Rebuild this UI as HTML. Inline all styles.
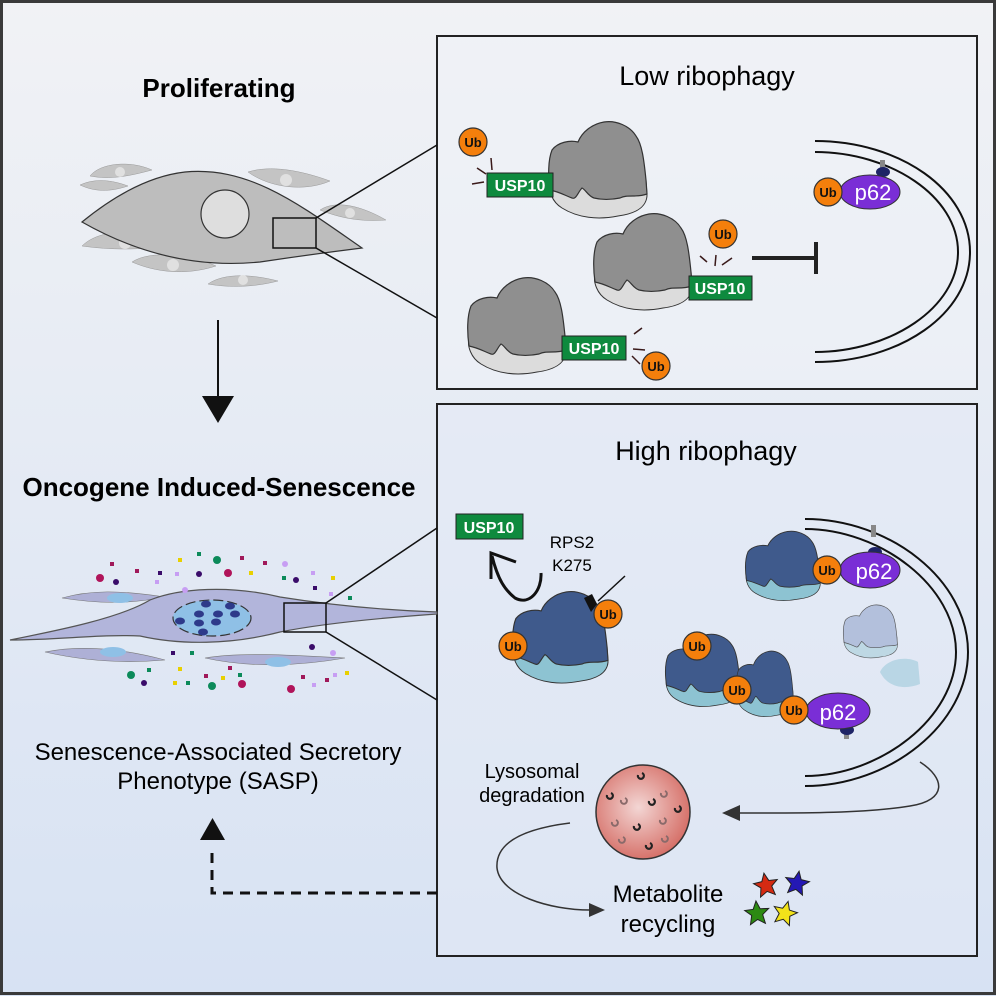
<!DOCTYPE html>
<html><head><meta charset="utf-8"><style>
html,body{margin:0;padding:0;width:996px;height:996px;overflow:hidden}
svg text{font-family:"Liberation Sans",sans-serif}
</style></head><body>
<svg width="996" height="996" viewBox="0 0 996 996" xmlns="http://www.w3.org/2000/svg">
<defs>
<linearGradient id="bg" x1="0" y1="0" x2="0" y2="1"><stop offset="0" stop-color="#f1f2f5"/><stop offset="1" stop-color="#d7e2f3"/></linearGradient>
<radialGradient id="lys" cx="0.45" cy="0.45" r="0.6"><stop offset="0" stop-color="#f3d6d4"/><stop offset="1" stop-color="#d46a62"/></radialGradient>
<g id="ribo">
<path d="M2,62 C0,70 4,82 14,88 C30,98 50,100 70,96 C86,94 98,88 99,76 L98,60 Z" fill="var(--s)" stroke="#333" stroke-width="1"/>
<path d="M4,30 C10,22 22,20 30,22 C34,12 44,4 56,2 C68,0 82,6 88,16 C94,24 96,40 98,60 L99,74 C88,78 80,74 72,78 C62,80 54,80 46,78 C40,76 38,70 34,68 C30,72 28,80 24,78 C18,76 12,72 2,70 C0,56 0,40 4,30 Z" fill="var(--l)" stroke="#333" stroke-width="1.2"/>
</g>
<g id="ub"><circle r="14" fill="#f47f0c" stroke="#333" stroke-width="1.2"/><text y="5" text-anchor="middle" font-size="13" font-weight="bold" fill="#111">Ub</text></g>
</defs>
<rect x="0" y="0" width="996" height="996" fill="url(#bg)"/>
<rect x="1.5" y="1.5" width="993" height="992" fill="none" stroke="#3a3a3a" stroke-width="3"/>
<rect x="437" y="36" width="540" height="353" fill="#eff1f6" fill-opacity="0.6" stroke="#222" stroke-width="2"/>
<rect x="437" y="404" width="540" height="552" fill="#e3eaf6" fill-opacity="0.5" stroke="#222" stroke-width="2"/>

<!-- left top -->
<text x="219" y="97" text-anchor="middle" font-size="26" font-weight="bold">Proliferating</text>
<g fill="#c4c4c4" stroke="#999" stroke-width="0.5">
<path d="M90,176 C100,163 130,160 152,170 C130,176 110,180 90,176Z"/><path d="M80,185 C95,178 112,180 128,186 C110,192 95,192 80,185Z"/>
<path d="M248,172 C270,165 300,170 330,181 C305,192 270,188 248,172Z"/>
<path d="M320,210 C335,200 360,205 386,220 C360,222 340,218 320,210Z"/>
<path d="M82,246 C100,228 140,228 168,246 C140,250 110,250 82,246Z"/>
<path d="M132,262 C150,250 190,254 216,266 C185,276 155,272 132,262Z"/>
<path d="M208,284 C225,272 255,275 278,281 C255,287 230,288 208,284Z"/>
</g>
<g fill="#e0e0e0"><circle cx="120" cy="172" r="5"/><circle cx="286" cy="180" r="6"/><circle cx="350" cy="213" r="5"/><circle cx="125" cy="243" r="6"/><circle cx="173" cy="265" r="6"/><circle cx="243" cy="280" r="5"/></g>
<path d="M82,222 C115,195 150,176 185,172 C250,166 300,205 362,248 C330,252 300,256 260,262 C200,268 140,255 82,222 Z" fill="#bdbdbd" stroke="#333" stroke-width="1.2"/>
<ellipse cx="225" cy="214" rx="24" ry="24" fill="#dedede" stroke="#333" stroke-width="1.2"/>
<rect x="273" y="218" width="43" height="30" fill="none" stroke="#111" stroke-width="1.5"/>
<line x1="316" y1="218" x2="437" y2="145" stroke="#111" stroke-width="1.5"/>
<line x1="316" y1="248" x2="437" y2="318" stroke="#111" stroke-width="1.5"/>
<line x1="218" y1="320" x2="218" y2="397" stroke="#111" stroke-width="2"/>
<polygon points="202,396 234,396 218,423" fill="#111"/>

<text x="219" y="496" text-anchor="middle" font-size="26" font-weight="bold">Oncogene Induced-Senescence</text>
<!-- senescent -->
<g fill="#aeb0d6" stroke="#777" stroke-width="0.6">
<path d="M62,598 C90,590 120,590 165,597 C130,604 100,604 62,598Z"/>
<path d="M45,652 C80,645 120,648 165,660 C120,664 80,660 45,652Z"/>
<path d="M205,658 C240,652 290,655 345,658 C300,666 250,668 205,658Z"/>
</g>
<g fill="#8fc0e6"><ellipse cx="120" cy="598" rx="13" ry="5"/><ellipse cx="113" cy="652" rx="13" ry="5"/><ellipse cx="278" cy="662" rx="13" ry="5"/></g>
<path d="M10,640 C60,630 120,618 150,600 C180,588 230,585 280,597 C330,605 380,610 437,612 L437,614 C380,618 320,624 280,632 C230,645 180,645 140,636 C100,634 60,640 10,640Z" fill="#b2b5db" stroke="#555" stroke-width="1.2"/>
<ellipse cx="212" cy="618" rx="39" ry="18" fill="#8fc0e6" stroke="#333" stroke-width="1.2" stroke-dasharray="10 4"/>
<g fill="#2e3a8a"><ellipse cx="206" cy="604" rx="5" ry="3.5"/><ellipse cx="230" cy="606" rx="5" ry="3.5"/><ellipse cx="199" cy="614" rx="5" ry="3.5"/><ellipse cx="218" cy="614" rx="5" ry="3.5"/><ellipse cx="235" cy="614" rx="5" ry="3.5"/><ellipse cx="180" cy="621" rx="5" ry="3.5"/><ellipse cx="199" cy="623" rx="5" ry="3.5"/><ellipse cx="216" cy="622" rx="5" ry="3.5"/><ellipse cx="203" cy="632" rx="5" ry="3.5"/></g>
<g>
<circle cx="100" cy="578" r="4" fill="#b0145a"/><circle cx="116" cy="582" r="3" fill="#3a0c6a"/><rect x="110" y="562" width="4" height="4" fill="#a0195a"/><rect x="135" y="569" width="4" height="4" fill="#a0195a"/><rect x="155" y="580" width="4" height="4" fill="#c79ef3"/><rect x="158" y="571" width="4" height="4" fill="#3a0c6a"/><rect x="178" y="558" width="4" height="4" fill="#e8d000"/><rect x="175" y="572" width="4" height="4" fill="#c79ef3"/><rect x="197" y="552" width="4" height="4" fill="#0c8a5a"/><circle cx="217" cy="560" r="4" fill="#0c8a5a"/><circle cx="199" cy="574" r="3" fill="#3a0c6a"/><circle cx="228" cy="573" r="4" fill="#b0145a"/><rect x="240" y="556" width="4" height="4" fill="#a0195a"/><rect x="249" y="571" width="4" height="4" fill="#e8d000"/><rect x="263" y="561" width="4" height="4" fill="#a0195a"/><circle cx="285" cy="564" r="3" fill="#c79ef3"/><rect x="282" y="576" width="4" height="4" fill="#0c8a5a"/><circle cx="296" cy="580" r="3" fill="#3a0c6a"/><rect x="311" y="571" width="4" height="4" fill="#c79ef3"/><rect x="313" y="586" width="4" height="4" fill="#3a0c6a"/><rect x="331" y="576" width="4" height="4" fill="#e8d000"/><rect x="329" y="592" width="4" height="4" fill="#c79ef3"/><rect x="348" y="596" width="4" height="4" fill="#0c8a5a"/><circle cx="185" cy="590" r="3" fill="#c79ef3"/>
<rect x="171" y="651" width="4" height="4" fill="#3a0c6a"/><rect x="190" y="651" width="4" height="4" fill="#0c8a5a"/><rect x="178" y="667" width="4" height="4" fill="#e8d000"/><circle cx="131" cy="675" r="4" fill="#0c8a5a"/><rect x="147" y="668" width="4" height="4" fill="#0c8a5a"/><circle cx="144" cy="683" r="3" fill="#3a0c6a"/><rect x="173" y="681" width="4" height="4" fill="#e8d000"/><rect x="186" y="681" width="4" height="4" fill="#0c8a5a"/><rect x="204" y="674" width="4" height="4" fill="#a0195a"/><circle cx="212" cy="686" r="4" fill="#0c8a5a"/><rect x="221" y="676" width="4" height="4" fill="#e8d000"/><rect x="228" y="666" width="4" height="4" fill="#a0195a"/><circle cx="242" cy="684" r="4" fill="#b0145a"/><rect x="238" y="673" width="4" height="4" fill="#0c8a5a"/><circle cx="312" cy="647" r="3" fill="#3a0c6a"/><circle cx="333" cy="653" r="3" fill="#c79ef3"/><rect x="301" y="675" width="4" height="4" fill="#a0195a"/><circle cx="291" cy="689" r="4" fill="#b0145a"/><rect x="312" y="683" width="4" height="4" fill="#c79ef3"/><rect x="325" y="678" width="4" height="4" fill="#a0195a"/><rect x="333" y="673" width="4" height="4" fill="#c79ef3"/><rect x="345" y="671" width="4" height="4" fill="#e8d000"/>
</g>
<rect x="284" y="603" width="42" height="29" fill="none" stroke="#111" stroke-width="1.5"/>
<line x1="326" y1="603" x2="437" y2="528" stroke="#111" stroke-width="1.5"/>
<line x1="326" y1="632" x2="437" y2="700" stroke="#111" stroke-width="1.5"/>
<text x="218" y="760" text-anchor="middle" font-size="24">Senescence-Associated Secretory</text>
<text x="218" y="789" text-anchor="middle" font-size="24">Phenotype (SASP)</text>
<polygon points="200,840 225,840 212.5,818" fill="#111"/>
<path d="M437,893 L212,893 L212,846" fill="none" stroke="#111" stroke-width="3" stroke-dasharray="10 7"/>

<!-- Low ribophagy -->
<text x="707" y="85" text-anchor="middle" font-size="27">Low ribophagy</text>
<g style="--l:#8f8f8f;--s:#dcdcdc">
<use href="#ribo" transform="translate(548,120)"/>
<use href="#ribo" transform="translate(593,212)"/>
<use href="#ribo" transform="translate(467,276)"/>
</g>
<g stroke="#3a1a1a" stroke-width="1.5"><line x1="491" y1="158" x2="492" y2="170"/><line x1="477" y1="168" x2="486" y2="174"/><line x1="472" y1="184" x2="484" y2="182"/>
<line x1="707" y1="262" x2="700" y2="256"/><line x1="715" y1="266" x2="716" y2="255"/><line x1="722" y1="265" x2="732" y2="258"/>
<line x1="634" y1="334" x2="642" y2="328"/><line x1="633" y1="349" x2="645" y2="350"/><line x1="632" y1="356" x2="640" y2="364"/></g>
<g font-size="16" font-weight="bold" fill="#fff" text-anchor="middle">
<rect x="487" y="173" width="66" height="24" fill="#0e8a3e" stroke="#222"/><text x="520" y="191">USP10</text>
<rect x="689" y="276" width="63" height="24" fill="#0e8a3e" stroke="#222"/><text x="720" y="294">USP10</text>
<rect x="562" y="336" width="64" height="24" fill="#0e8a3e" stroke="#222"/><text x="594" y="354">USP10</text>
</g>
<use href="#ub" x="473" y="142"/><use href="#ub" x="723" y="234"/><use href="#ub" x="656" y="366"/>
<line x1="752" y1="258" x2="815" y2="258" stroke="#222" stroke-width="4"/>
<line x1="816" y1="242" x2="816" y2="274" stroke="#222" stroke-width="4"/>
<g fill="none" stroke="#111" stroke-width="2">
<path d="M815,141 C900,141 970,190 970,252 C970,314 900,362 815,362"/>
<path d="M815,152 C890,152 958,196 958,252 C958,308 890,352 815,352"/>
</g>
<rect x="880" y="160" width="5" height="14" fill="#888"/><ellipse cx="883" cy="172" rx="7" ry="5" fill="#1e2466"/>
<ellipse cx="870" cy="192" rx="30" ry="17" fill="#7a2ed6" stroke="#333"/><text x="873" y="200" font-size="22" fill="#fff" text-anchor="middle">p62</text>
<use href="#ub" x="828" y="192"/>

<!-- High ribophagy -->
<text x="706" y="460" text-anchor="middle" font-size="27">High ribophagy</text>
<rect x="456" y="514" width="67" height="25" fill="#0e8a3e" stroke="#222"/><text x="489" y="533" font-size="16" font-weight="bold" fill="#fff" text-anchor="middle">USP10</text>
<path d="M541,573 C542,590 530,606 515,598 C505,590 498,580 492,556" fill="none" stroke="#111" stroke-width="3"/>
<path d="M491,579 L491,553 L516,562" fill="none" stroke="#111" stroke-width="3"/>
<text x="572" y="548" text-anchor="middle" font-size="17">RPS2</text>
<text x="572" y="571" text-anchor="middle" font-size="17">K275</text>
<line x1="625" y1="576" x2="598" y2="601" stroke="#111" stroke-width="1.5"/>
<g style="--l:#3f5a8c;--s:#8dc3d2">
<use href="#ribo" transform="translate(512,590) scale(0.97,0.95)"/>
<use href="#ribo" transform="translate(745,530) scale(0.76,0.72)"/>
<use href="#ribo" transform="translate(665,633) scale(0.76,0.75)"/>
<use href="#ribo" transform="translate(736,650) scale(0.58,0.68)"/>
</g>
<g style="--l:#a8b6d6;--s:#b6d4e0" opacity="0.8">
<use href="#ribo" transform="translate(843,604) scale(0.55,0.55)"/>
<path d="M880,672 C885,660 905,655 918,662 L920,684 C905,690 888,688 880,672Z" fill="#b0d2e2"/>
</g>
<path d="M584,598 L592,594 L597,604 L591,612 Z" fill="#111"/>
<use href="#ub" x="608" y="614"/><use href="#ub" x="513" y="646"/>
<g fill="none" stroke="#111" stroke-width="2">
<path d="M805,519 C890,519 968,580 968,652 C968,724 890,786 805,786"/>
<path d="M805,529 C880,529 956,586 956,652 C956,718 880,776 805,776"/>
</g>
<rect x="871" y="525" width="5" height="12" fill="#888"/><ellipse cx="875" cy="552" rx="7" ry="5" fill="#1e2466"/>
<ellipse cx="870" cy="570" rx="30" ry="18" fill="#7a2ed6" stroke="#333"/><text x="874" y="579" font-size="22" fill="#fff" text-anchor="middle">p62</text>
<use href="#ub" x="827" y="570"/>
<rect x="844" y="727" width="5" height="12" fill="#888"/><ellipse cx="847" cy="730" rx="7" ry="5" fill="#1e2466"/>
<ellipse cx="838" cy="711" rx="32" ry="18" fill="#7a2ed6" stroke="#333"/><text x="838" y="720" font-size="22" fill="#fff" text-anchor="middle">p62</text>
<use href="#ub" x="697" y="646"/><use href="#ub" x="737" y="690"/><use href="#ub" x="794" y="710"/>
<path d="M920,762 C945,778 948,800 910,806 C860,814 790,813 738,813" fill="none" stroke="#333" stroke-width="1.5"/>
<polygon points="722,813 740,805 740,821" fill="#333"/>
<text x="532" y="778" text-anchor="middle" font-size="20">Lysosomal</text>
<text x="532" y="802" text-anchor="middle" font-size="20">degradation</text>
<circle cx="643" cy="812" r="47" fill="url(#lys)" stroke="#333" stroke-width="1.5"/>
<g fill="none" stroke="#222" stroke-width="2.2">
<path d="M638,775 a3,3 0 1 0 4,-2"/><path d="M607,795 a3,3 0 1 0 4,-2"/><path d="M649,801 a3,3 0 1 0 4,-2"/><path d="M675,808 a3,3 0 1 0 4,-2"/><path d="M634,826 a3,3 0 1 0 4,-2"/><path d="M646,845 a3,3 0 1 0 4,-2"/>
</g>
<g fill="none" stroke="#8a6a6a" stroke-width="2">
<path d="M621,800 a3,3 0 1 0 4,-2"/><path d="M661,793 a3,3 0 1 0 4,-2"/><path d="M612,822 a3,3 0 1 0 4,-2"/><path d="M660,820 a3,3 0 1 0 4,-2"/><path d="M619,839 a3,3 0 1 0 4,-2"/><path d="M662,838 a3,3 0 1 0 4,-2"/>
</g>
<path d="M570,823 C530,828 495,840 497,868 C500,895 550,910 590,910" fill="none" stroke="#333" stroke-width="1.5"/>
<polygon points="605,910 589,903 589,917" fill="#333"/>
<text x="668" y="902" text-anchor="middle" font-size="24">Metabolite</text>
<text x="668" y="932" text-anchor="middle" font-size="24">recycling</text>
<g stroke="#222" stroke-width="1">
<polygon transform="translate(766,885) rotate(-10)" points="0,-12 3.5,-4 12,-3.5 5.5,2 7.5,11 0,6.5 -7.5,11 -5.5,2 -12,-3.5 -3.5,-4" fill="#d42a12"/>
<polygon transform="translate(797,883) rotate(10)" points="0,-12 3.5,-4 12,-3.5 5.5,2 7.5,11 0,6.5 -7.5,11 -5.5,2 -12,-3.5 -3.5,-4" fill="#2418b4"/>
<polygon transform="translate(757,913) rotate(-5)" points="0,-12 3.5,-4 12,-3.5 5.5,2 7.5,11 0,6.5 -7.5,11 -5.5,2 -12,-3.5 -3.5,-4" fill="#2c8a12"/>
<polygon transform="translate(785,913) rotate(15)" points="0,-12 3.5,-4 12,-3.5 5.5,2 7.5,11 0,6.5 -7.5,11 -5.5,2 -12,-3.5 -3.5,-4" fill="#f2e21a"/>
</g>
</svg>
</body></html>
